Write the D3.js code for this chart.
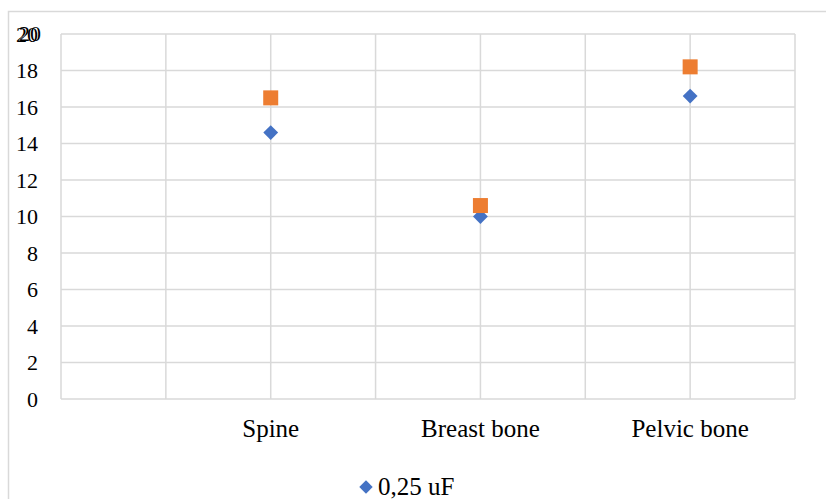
<!DOCTYPE html>
<html>
<head>
<meta charset="utf-8">
<script src="https://cdn.jsdelivr.net/npm/d3@7"></script>
<style>
  html, body { margin: 0; padding: 0; background: #fff; }
  svg { display: block; }
  text { font-family: "Liberation Serif", "Times New Roman", serif; fill: #000; }
</style>
</head>
<body>
<svg id="chart" width="826" height="499"></svg>
<script>
// Bone sites and their measured values
const categories = ["Spine", "Breast bone", "Pelvic bone"];
const categoryPos = [2, 4, 6];
const series025 = [14.6, 10.0, 16.6];   // 0,25 uF
const seriesB = [16.5, 10.6, 18.2];
const yTicks = [0, 2, 4, 6, 8, 10, 12, 14, 16, 18, 20];
const xGrid = [0, 1, 2, 3, 4, 5, 6, 7];
const legendLabel = "0,25 uF";

const blue = "#4472C4", orange = "#ED7D31", grid = "#d9d9d9";
const svg = d3.select("#chart");
const W = 826, H = 499;
const m = { left: 61, right: 795, top: 34, bottom: 399 };

// chart frame
svg.append("rect").attr("x", 8.5).attr("y", 11.5).attr("width", W + 10).attr("height", H + 10)
  .attr("fill", "#fff").attr("stroke", grid).attr("stroke-width", 1.5);

const x = d3.scaleLinear().domain([0, 7]).range([m.left, m.right]);
const y = d3.scaleLinear().domain([0, 20]).range([m.bottom, m.top]);

// gridlines
svg.append("g").selectAll("line").data(yTicks).join("line")
  .attr("x1", m.left).attr("x2", m.right)
  .attr("y1", d => y(d)).attr("y2", d => y(d))
  .attr("stroke", grid).attr("stroke-width", 1.5);
svg.append("g").selectAll("line").data(xGrid).join("line")
  .attr("x1", d => x(d)).attr("x2", d => x(d))
  .attr("y1", m.top).attr("y2", m.bottom)
  .attr("stroke", grid).attr("stroke-width", 1.5);

// y axis labels
const yAxis = d3.axisLeft(y).tickValues(yTicks).tickSize(0).tickPadding(0);
const gy = svg.append("g").attr("transform", `translate(${m.left - 23},0)`).call(yAxis);
gy.select(".domain").remove();
gy.attr("font-family", null);
gy.selectAll("text").attr("font-size", 22).attr("fill", "#000");
// top label is drawn twice, slightly offset
gy.append("text").attr("x", 3).attr("y", y(20)).attr("dy", "0.32em")
  .attr("text-anchor", "end").attr("font-size", 22).attr("fill", "#000").text("20");

// category labels
svg.append("g").selectAll("text").data(categories).join("text")
  .attr("x", (d, i) => x(categoryPos[i])).attr("y", 437)
  .attr("text-anchor", "middle").attr("font-size", 25).text(d => d);

// markers
const diamond = d3.symbol().type(d3.symbolSquare).size(110);
svg.append("g").selectAll("path").data(series025).join("path")
  .attr("d", diamond)
  .attr("transform", (d, i) => `translate(${x(categoryPos[i])},${y(d)}) rotate(45)`)
  .attr("fill", blue);
svg.append("g").selectAll("rect").data(seriesB).join("rect")
  .attr("x", (d, i) => x(categoryPos[i]) - 7.5).attr("y", d => y(d) - 7.5)
  .attr("width", 15).attr("height", 15).attr("fill", orange);

// legend
const lg = svg.append("g").attr("transform", "translate(366,487)");
lg.append("path").attr("d", d3.symbol().type(d3.symbolSquare).size(90)).attr("transform", "rotate(45)").attr("fill", blue);
lg.append("text").attr("x", 12).attr("y", 0).attr("dy", "0.33em").attr("font-size", 25).text(legendLabel);
</script>
</body>
</html>
